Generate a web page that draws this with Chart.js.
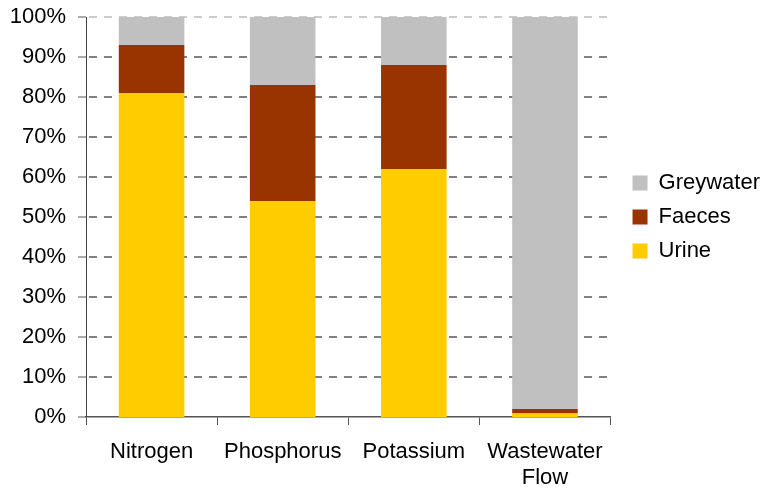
<!DOCTYPE html>
<html>
<head>
<meta charset="utf-8">
<script src="https://cdn.jsdelivr.net/npm/chart.js@4/dist/chart.umd.min.js"></script>
<style>
  html, body { margin: 0; padding: 0; background: #fff; }
  #wrap { width: 761px; height: 488px; position: relative; }
</style>
</head>
<body>
<div id="wrap"><canvas id="myChart"></canvas></div>
<script>
'use strict';

// categories (last label wraps over two lines)
var categories = ['Nitrogen', 'Phosphorus', 'Potassium', ['Wastewater', 'Flow']];

// share of each stream, in percent
var urine     = [81, 54, 62, 0.9];
var faeces    = [12, 29, 26, 1.1];
var greywater = [7, 17, 12, 98];

var yTicks = [0, 10, 20, 30, 40, 50, 60, 70, 80, 90, 100];

var fontFamily = "'Liberation Sans', Arial, sans-serif";
Chart.defaults.font.family = fontFamily;
Chart.defaults.color = '#000';

const data = {
    labels: categories,
    datasets: [
        { label: 'Urine', data: urine, backgroundColor: '#FFCC00' },
        { label: 'Faeces', data: faeces, backgroundColor: '#993300' },
        { label: 'Greywater', data: greywater, backgroundColor: '#C0C0C0' }
    ]
};

// nudge the legend items right a bit, the gap box->text is wider than in the original
const legendShift = {
    id: 'legendShift',
    afterLayout: function (chart) {
        chart.legend.left += 10;
        chart.legend.right += 10;
    }
};

const options = {
    responsive: true,
    maintainAspectRatio: false,
    animation: false,
    layout: { padding: { left: 10, top: 0, right: 1, bottom: 0 } },
    datasets: { bar: { categoryPercentage: 1, barPercentage: 0.5 } },
    plugins: {
        tooltip: { enabled: false },
        legend: {
            position: 'right',
            fullSize: false,
            reverse: true,
            labels: {
                boxWidth: 15,
                boxHeight: 15,
                padding: 12,
                font: { size: 22 },
                color: '#000'
            }
        }
    },
    scales: {
        x: {
            stacked: true,
            offset: true,
            afterFit: function (scale) {
                scale.height = 71;
                scale.paddingLeft = 0;
                scale.paddingRight = 0;
            },
            grid: {
                offset: true,
                drawOnChartArea: false,
                drawTicks: true,
                tickLength: 8,
                tickColor: '#555'
            },
            border: { color: '#555', width: 1.5 },
            ticks: { font: { size: 22, lineHeight: 1.18 }, padding: 14, color: '#000', maxRotation: 0 }
        },
        y: {
            stacked: true,
            min: 0,
            max: 100,
            afterBuildTicks: function (axis) {
                axis.ticks = yTicks.map(function (v) { return { value: v }; });
            },
            afterFit: function (scale) {
                scale.width = 76;
                scale.paddingTop = 17;
                scale.paddingBottom = 0;
            },
            grid: {
                color: function (ctx) { return ctx.tick && ctx.tick.value === 100 ? '#ccc' : '#808080'; },
                lineWidth: function (ctx) { return ctx.tick && ctx.tick.value === 0 ? 0 : 2; },
                tickLength: 8,
                tickColor: '#555',
                tickWidth: 1,
                tickBorderDash: []
            },
            border: { color: '#444', width: 1, dash: [8, 7], dashOffset: 13 },
            ticks: {
                font: { size: 22 },
                padding: 12,
                color: '#000',
                callback: function (v) { return v + '%'; }
            }
        }
    }
};

const myChart = new Chart(document.getElementById('myChart'), {
    type: 'bar',
    data: data,
    options: options,
    plugins: [legendShift]
});
</script>
</body>
</html>
